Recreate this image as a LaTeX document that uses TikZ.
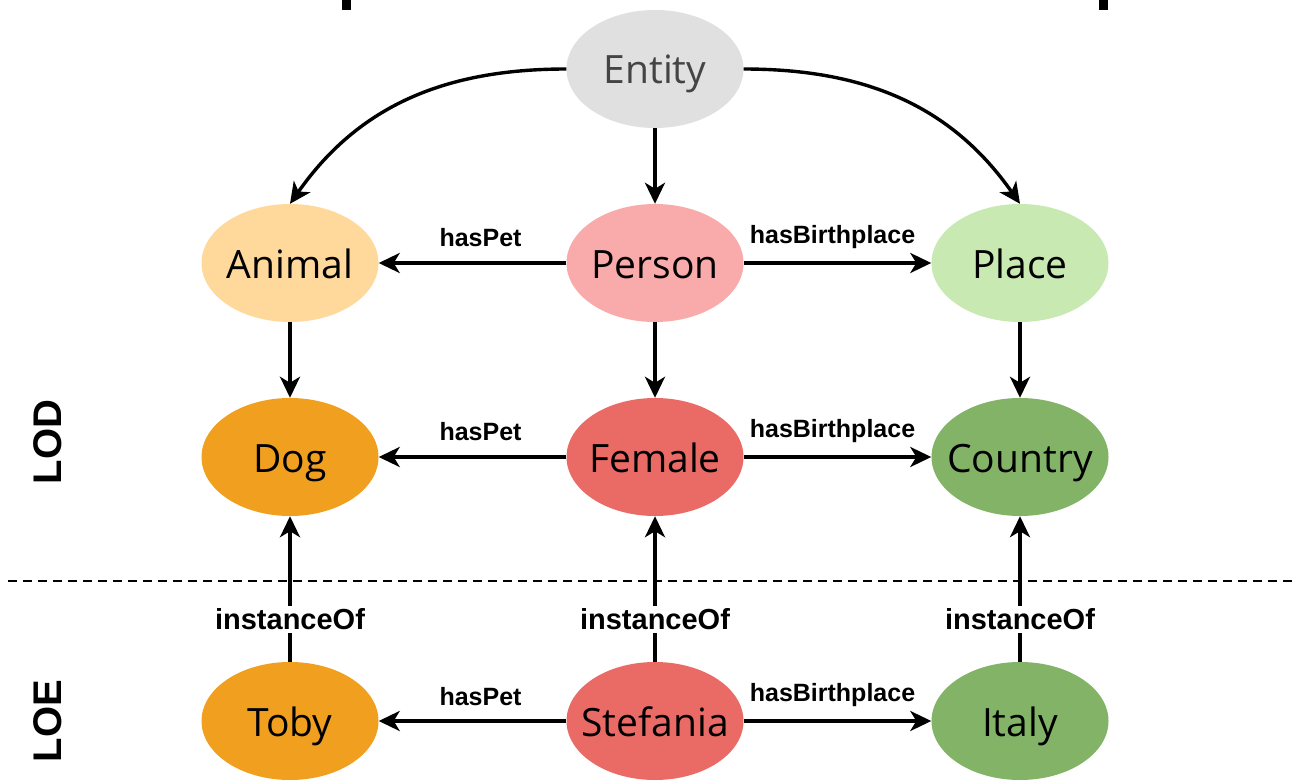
\documentclass[tikz,border=0pt]{standalone}
\usepackage{fontspec}
\setmainfont{Open Sans}
\newfontfamily\lblfont{Liberation Sans}
\usetikzlibrary{arrows.meta,shapes.geometric}
\definecolor{cEntity}{HTML}{E0E0E0}
\definecolor{cAnimal}{HTML}{FFD89C}
\definecolor{cPerson}{HTML}{F9AAAA}
\definecolor{cPlace}{HTML}{C8E9B2}
\definecolor{cDog}{HTML}{F0A01E}
\definecolor{cFemale}{HTML}{EA6B66}
\definecolor{cCountry}{HTML}{82B366}
\definecolor{cEntityText}{HTML}{444444}
\newcommand{\zt}[1]{\makebox[0pt]{#1}}
\tikzset{
  ell/.style={ellipse, minimum width=177pt, minimum height=118pt, inner sep=0pt, draw=none,
    text height=30pt, text depth=0pt, font=\fontsize{39}{44}\selectfont},
  conn/.style={line width=3.4pt, -{Stealth[length=21pt,width=20pt,inset=6pt]}},
  lbl/.style={font=\lblfont\bfseries\fontsize{25}{28}\selectfont, inner sep=1pt},
  inst/.style={font=\lblfont\bfseries\fontsize{29}{32}\selectfont, fill=white, inner sep=3pt},
  side/.style={font=\lblfont\bfseries\fontsize{40}{44}\selectfont, rotate=90}
}
\begin{document}
\begin{tikzpicture}[x=1pt,y=-1pt]
\useasboundingbox (0,0) rectangle (1294,781);
\clip (0,0) rectangle (1294,781);
% top marks
\fill[black] (342,0) rectangle (351,10);
\fill[black] (1099,0) rectangle (1108,10);
% dashed separator
\coordinate (dl) at (8,581);
\coordinate (dr) at (1294,581);
\draw[line width=2pt, dash pattern=on 9pt off 6pt] (dl) -- (dr);
% nodes
\node[ell, fill=cEntity, text=cEntityText] (entity) at (655,69) {\zt{Entity}};
\node[ell, fill=cAnimal] (animal) at (290,263) {\zt{Animal}};
\node[ell, fill=cPerson] (person) at (655,263) {\zt{Person}};
\node[ell, fill=cPlace] (place) at (1020,263) {\zt{Place}};
\node[ell, fill=cDog] (dog) at (290,457) {\zt{Dog}};
\node[ell, fill=cFemale] (female) at (655,457) {\zt{Female}};
\node[ell, fill=cCountry] (country) at (1020,457) {\zt{Country}};
\node[ell, fill=cDog] (toby) at (290,721) {\zt{Toby}};
\node[ell, fill=cFemale] (stefania) at (655,721) {\zt{Stefania}};
\node[ell, fill=cCountry] (italy) at (1020,721) {\zt{Italy}};
% side labels
\node[side] (lod) at (48,442) {LOD};
\node[side] (loe) at (48,721) {LOE};
% connectors
\draw[conn] (entity.west) to[out=180,in=55] (animal.north);
\draw[conn] (entity.east) to[out=0,in=125] (place.north);
\draw[conn] (entity) -- (person);
\draw[conn] (person) -- (female);
\draw[conn] (animal) -- (dog);
\draw[conn] (place) -- (country);
\draw[conn] (person) -- node[lbl, above=14pt, xshift=8pt] {hasPet} (animal);
\draw[conn] (person) -- node[lbl, above=12pt, xshift=-5pt] {hasBirthplace} (place);
\draw[conn] (female) -- node[lbl, above=14pt, xshift=8pt] {hasPet} (dog);
\draw[conn] (female) -- node[lbl, above=12pt, xshift=-5pt] {hasBirthplace} (country);
\draw[conn] (stefania) -- node[lbl, above=13pt, xshift=8pt] {hasPet} (toby);
\draw[conn] (stefania) -- node[lbl, above=12pt, xshift=-5pt] {hasBirthplace} (italy);
\draw[conn] (toby) -- node[inst, pos=0.29] {instanceOf} (dog);
\draw[conn] (stefania) -- node[inst, pos=0.29] {instanceOf} (female);
\draw[conn] (italy) -- node[inst, pos=0.29] {instanceOf} (country);
\end{tikzpicture}
\end{document}
